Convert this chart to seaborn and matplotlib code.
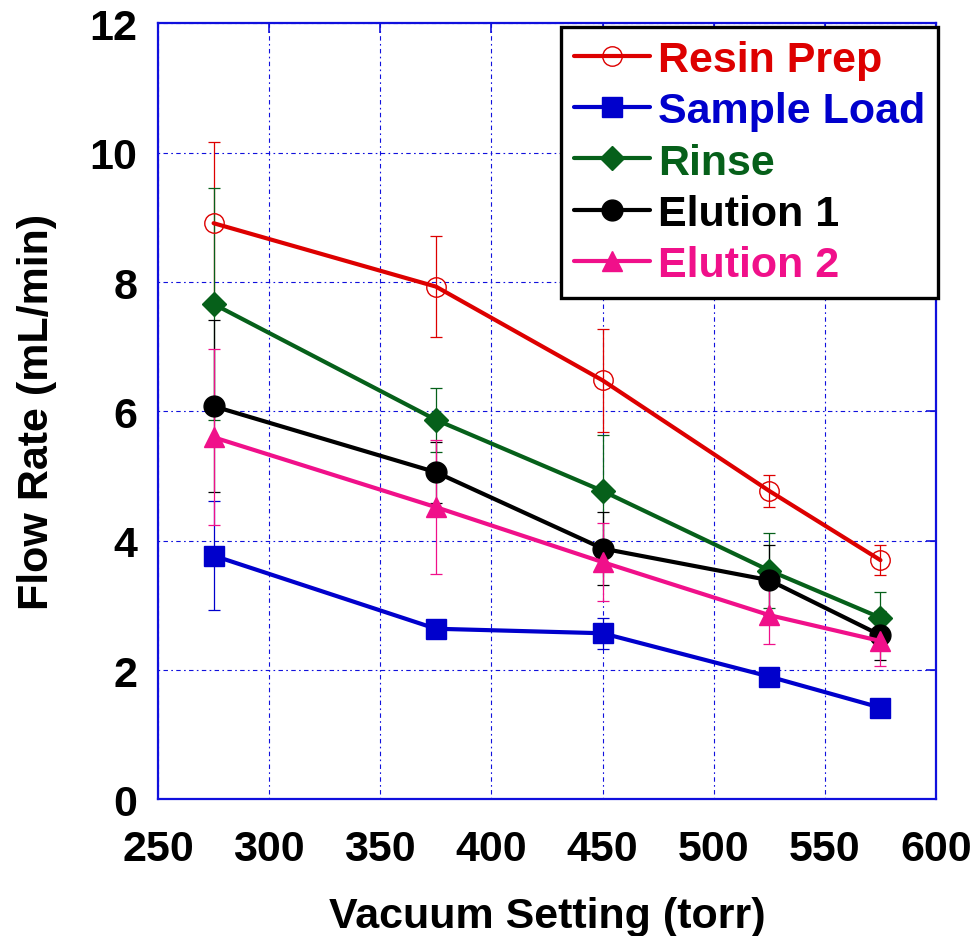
import matplotlib
matplotlib.use("Agg")
import matplotlib.pyplot as plt
import seaborn as sns
import numpy as np

# Vacuum settings (torr)
vacuum = [275, 375, 450, 525, 575]

# Mean flow rates (mL/min) and their error-bar half widths
resin_prep = [8.91, 7.93, 6.48, 4.77, 3.70]
resin_prep_err = [1.26, 0.78, 0.80, 0.25, 0.23]

sample_load = [3.77, 2.64, 2.57, 1.90, 1.42]
sample_load_err = [0.84, 0.08, 0.24, 0.10, 0.06]

rinse = [7.66, 5.87, 4.77, 3.54, 2.81]
rinse_err = [1.79, 0.49, 0.86, 0.58, 0.40]

elution1 = [6.08, 5.06, 3.88, 3.39, 2.54]
elution1_err = [1.33, 0.47, 0.56, 0.54, 0.38]

elution2 = [5.60, 4.52, 3.67, 2.85, 2.45]
elution2_err = [1.36, 1.04, 0.60, 0.45, 0.39]

series_names = ["Resin Prep", "Sample Load", "Rinse", "Elution 1", "Elution 2"]
series_values = [resin_prep, sample_load, rinse, elution1, elution2]
series_errors = [resin_prep_err, sample_load_err, rinse_err, elution1_err, elution2_err]
series_colors = ["#DD0000", "#0000CC", "#06601A", "#000000", "#F0108A"]
series_markers = ["o", "s", "D", "o", "^"]
series_msize = [14, 15, 12, 15, 15]
series_filled = [False, True, True, True, True]

x_ticks = [250, 300, 350, 400, 450, 500, 550, 600]
y_ticks = [0, 2, 4, 6, 8, 10, 12]

sns.set_theme(style="white")
plt.rcParams["font.family"] = ["Liberation Sans", "DejaVu Sans"]
plt.rcParams["font.weight"] = "bold"
plt.rcParams["text.color"] = "black"
plt.rcParams["axes.labelcolor"] = "black"
plt.rcParams["xtick.labelcolor"] = "black"
plt.rcParams["ytick.labelcolor"] = "black"

fig = plt.figure(figsize=(9.78, 9.37), dpi=100)
ax = fig.add_axes([0.1616, 0.1457, 0.7955, 0.8283])

axis_blue = "#1010DD"

# thin error bars underneath the lines
for vals, errs, col in zip(series_values, series_errors, series_colors):
    ax.errorbar(vacuum, vals, yerr=errs, fmt="none", ecolor=col,
                elinewidth=0.9, capsize=4.0, capthick=0.9, zorder=2)

for name, vals, col, mk, ms, filled in zip(series_names, series_values, series_colors,
                                           series_markers, series_msize, series_filled):
    sns.lineplot(x=vacuum, y=vals, ax=ax, color=col, linewidth=3.0,
                 marker=mk, markersize=ms,
                 markerfacecolor=col if filled else "none",
                 markeredgecolor=col, markeredgewidth=1.0,
                 label=name, zorder=3, legend=False)

ax.set_xlim(250, 600)
ax.set_ylim(0, 12)
ax.set_xticks(x_ticks)
ax.set_yticks(y_ticks)
ax.set_xticklabels([str(v) for v in x_ticks])
ax.set_yticklabels([str(v) for v in y_ticks])

ax.grid(True, color=axis_blue, linestyle=(0, (1.5, 3, 4, 3)), linewidth=0.8)
for side in ["left", "right", "top", "bottom"]:
    ax.spines[side].set_visible(True)
    ax.spines[side].set_color(axis_blue)
    ax.spines[side].set_linewidth(1.6)

ax.tick_params(axis="both", which="major", direction="in", length=7, width=1.2,
               color=axis_blue, top=True, right=True, labelsize=31)
ax.tick_params(axis="x", pad=21)
ax.tick_params(axis="y", pad=15)
for lbl in ax.get_xticklabels() + ax.get_yticklabels():
    lbl.set_fontweight("bold")

ax.set_xlabel("Vacuum Setting (torr)", fontsize=31, fontweight="bold", labelpad=20)
ax.set_ylabel("Flow Rate (mL/min)", fontsize=31, fontweight="bold", labelpad=23)

h, l = ax.get_legend_handles_labels()
leg = ax.legend(h, l, loc="upper right", bbox_to_anchor=(1.003, 0.995),
                borderaxespad=0, fancybox=False, frameon=True,
                prop={"size": 31, "weight": "bold"}, handlelength=1.75,
                handletextpad=0.2, labelspacing=0.26, borderpad=0.3)
leg.get_frame().set_edgecolor("black")
leg.get_frame().set_linewidth(2.4)
leg.get_frame().set_facecolor("white")
leg.get_frame().set_alpha(1)
leg.set_zorder(5)
for txt, col in zip(leg.get_texts(), series_colors):
    txt.set_color(col)

fig.savefig("out.png", dpi=100)
